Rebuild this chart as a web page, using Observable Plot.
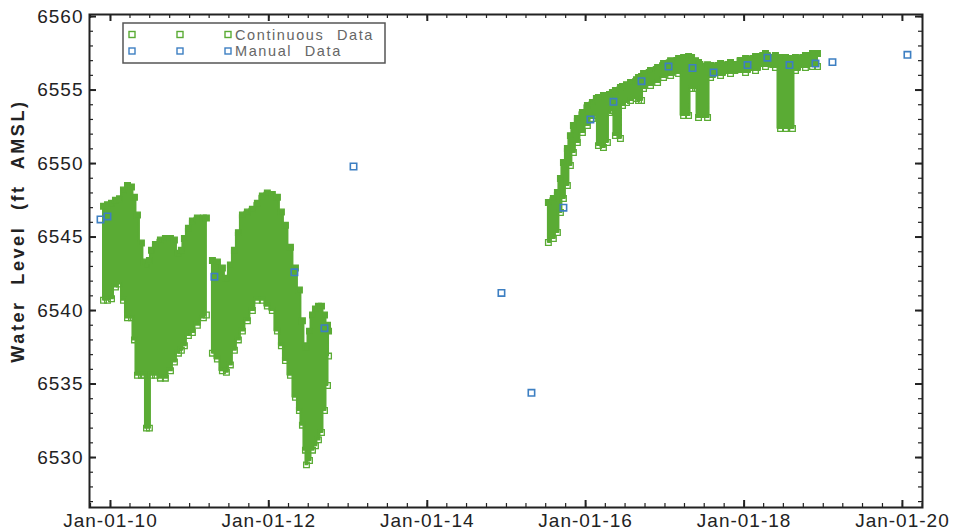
<!DOCTYPE html>
<html><head><meta charset="utf-8">
<script src="https://cdn.jsdelivr.net/npm/d3@7"></script>
<script src="https://cdn.jsdelivr.net/npm/@observablehq/plot@0.6"></script>
<style>body{margin:0;background:#fff;} #chart{width:956px;height:532px;}</style>
</head><body><div id="chart"></div>
<script>
// ---- Continuous data: envelope (high / low) of the dense logger record, decimal years ----
const segA_year = [2009.912,2009.962,2010.013,2010.063,2010.114,2010.164,2010.215,2010.265,2010.303,2010.341,2010.391,2010.429,2010.455,2010.492,2010.518,2010.568,2010.631,2010.694,2010.758,2010.808,2010.859,2010.896,2010.934,2010.985,2011.035,2011.098,2011.174,2011.212];
const segA_high = [6547.1,6547.2,6547.3,6547.5,6547.6,6548.2,6548.5,6548.4,6547.7,6546.5,6544.6,6543.3,6543.1,6543.4,6544.1,6544.5,6544.8,6544.9,6544.9,6544.8,6543.9,6544.1,6544.9,6545.6,6546.1,6546.3,6546.3,6546.3];
const segA_low  = [6540.7,6540.7,6540.8,6541.6,6541.8,6540.7,6539.5,6539.5,6538.0,6535.6,6535.6,6535.6,6532.0,6532.0,6535.6,6535.6,6535.4,6535.4,6535.9,6536.5,6537.1,6537.3,6537.6,6538.3,6538.5,6539.0,6539.5,6539.7];

const segB_year = [2011.288,2011.351,2011.414,2011.465,2011.515,2011.566,2011.616,2011.667,2011.730,2011.793,2011.856,2011.919,2011.982,2012.045,2012.109,2012.159,2012.210,2012.273,2012.336,2012.386,2012.424,2012.462,2012.475,2012.513,2012.551,2012.588,2012.626,2012.664,2012.702,2012.740,2012.753];
const segB_high = [6543.4,6543.3,6542.9,6542.2,6543.1,6544.1,6545.3,6546.5,6546.7,6546.9,6547.3,6547.8,6548.0,6547.9,6547.7,6546.7,6545.8,6544.3,6542.9,6541.4,6539.3,6537.6,6537.5,6538.6,6539.7,6540.1,6540.3,6540.3,6539.7,6539.0,6538.6];
const segB_low  = [6537.1,6536.7,6535.9,6535.8,6536.3,6537.3,6538.0,6538.6,6539.3,6540.0,6540.7,6540.7,6540.3,6540.0,6538.6,6537.6,6536.6,6535.6,6534.1,6533.2,6532.2,6530.5,6529.5,6529.8,6530.5,6530.8,6531.2,6531.7,6533.2,6534.9,6536.9];

const segC_year = [2015.530,2015.593,2015.644,2015.682,2015.720,2015.770,2015.808,2015.846,2015.896,2015.960,2016.023,2016.086,2016.136,2016.162,2016.225,2016.275,2016.301,2016.338,2016.376,2016.439,2016.465,2016.515,2016.566,2016.641,2016.667,2016.705,2016.730,2016.818,2016.907,2016.982,2017.071,2017.172,2017.235,2017.298,2017.336,2017.386,2017.424,2017.538,2017.576,2017.702,2017.828,2018.018,2018.144,2018.270,2018.396,2018.460,2018.523,2018.611,2018.649,2018.775,2018.864,2018.927];
const segC_high = [6547.35,6547.62,6548.03,6548.98,6550.07,6551.02,6551.90,6552.59,6553.06,6553.47,6553.95,6554.15,6554.42,6554.49,6554.63,6554.63,6554.69,6554.83,6554.97,6555.17,6555.24,6555.37,6555.51,6555.71,6555.85,6555.92,6556.12,6556.33,6556.53,6556.80,6557.00,6557.14,6557.21,6557.28,6557.21,6557.00,6556.87,6556.73,6556.67,6556.80,6556.87,6557.14,6557.28,6557.48,6557.35,6557.21,6557.21,6557.14,6557.21,6557.35,6557.48,6557.48];
const segC_low  = [6544.63,6544.90,6545.31,6546.67,6547.62,6548.50,6549.86,6550.75,6551.43,6552.11,6552.59,6553.06,6553.27,6551.22,6551.09,6551.43,6553.47,6553.61,6551.90,6551.70,6553.95,6554.15,6554.29,6554.42,6554.29,6554.29,6555.10,6555.31,6555.51,6555.85,6555.99,6556.12,6553.27,6553.27,6555.10,6555.10,6553.13,6553.13,6555.85,6555.99,6556.12,6556.19,6556.33,6556.60,6556.53,6552.38,6552.38,6552.38,6556.33,6556.53,6556.60,6556.60];

// ---- Manual data ----
const manualYear  = [2009.874,2009.962,2011.313,2012.323,2012.702,2013.068,2014.937,2015.316,2015.720,2016.061,2016.351,2016.705,2017.045,2017.348,2017.614,2018.043,2018.295,2018.573,2018.902,2019.116,2020.063];
const manualLevel = [6546.2,6546.4,6542.3,6542.6,6538.8,6549.8,6541.2,6534.4,6547.0,6553.0,6554.2,6555.6,6556.6,6556.5,6556.2,6556.7,6557.2,6556.7,6556.8,6556.9,6557.4];

// ---- Axis ticks and texts ----
const xTickYears = [2010,2012,2014,2016,2018,2020];
const yTicks = [6530,6535,6540,6545,6550,6555,6560];
const legendLabels = ["Continuous Data","Manual Data"];
const yTitle = "Water Level (ft AMSL)";

const green = "#5aab34", blue = "#3d7fc2";

const toDate = y => { const f = Math.floor(y); const a = Date.UTC(f,0,1), b = Date.UTC(f+1,0,1); return new Date(a + (y - f) * (b - a)); };

const cont = [];
[[segA_year,segA_high,segA_low,"A"],[segB_year,segB_high,segB_low,"B"],[segC_year,segC_high,segC_low,"C"]]
  .forEach(([ys,hs,ls,id]) => ys.forEach((y,i) => cont.push({date: toDate(y), high: hs[i], low: ls[i], seg: id})));
const manual = manualYear.map((y,i) => ({date: toDate(y), level: manualLevel[i]}));

const W = 956, H = 532, mL = 89, mR = 34, mT = 14, mB = 25;
const plotH = H - mT - mB, plotW = W - mL - mR;
const xDomain = [toDate(2009.735), toDate(2020.253)];
const yDomain = [6526.6, 6560.14];

const majorX = xTickYears.map(y => new Date(Date.UTC(y,0,1)));
const minorX = d3.utcMonth.every(3).range(xDomain[0], xDomain[1]);
const minorY = d3.range(Math.ceil(yDomain[0]), Math.floor(yDomain[1]) + 1);

const chart = Plot.plot({
  width: W, height: H,
  marginLeft: mL, marginRight: mR, marginTop: mT, marginBottom: mB,
  style: {fontFamily: "Liberation Sans, Arial, sans-serif", fontSize: "19px", color: "#222", background: "#fff"},
  x: {type: "utc", domain: xDomain, axis: null},
  y: {domain: yDomain, axis: null},
  marks: [
    Plot.areaY(cont, {x: "date", y1: "low", y2: "high", z: "seg", curve: "step", fill: green, stroke: green, strokeWidth: 2}),
    Plot.dot(cont, {x: "date", y: "high", symbol: "square", r: 3.2, stroke: green, strokeWidth: 1.3, fill: green}),
    Plot.dot(cont, {x: "date", y: "low", symbol: "square", r: 3.2, stroke: green, strokeWidth: 1.3, fill: "none"}),
    Plot.dot(manual, {x: "date", y: "level", symbol: "square", r: 3.6, stroke: blue, strokeWidth: 1.6, fill: "none"}),
    // ticks (inward, all four sides)
    Plot.ruleX(minorX, {x: d => d, insetTop: plotH - 4, stroke: "#222", strokeWidth: 1.2}),
    Plot.ruleX(minorX, {x: d => d, insetBottom: plotH - 4, stroke: "#222", strokeWidth: 1.2}),
    Plot.ruleX(majorX, {x: d => d, insetTop: plotH - 7, stroke: "#222", strokeWidth: 2}),
    Plot.ruleX(majorX, {x: d => d, insetBottom: plotH - 7, stroke: "#222", strokeWidth: 2}),
    Plot.ruleY(minorY, {y: d => d, insetRight: plotW - 4, stroke: "#222", strokeWidth: 1.2}),
    Plot.ruleY(minorY, {y: d => d, insetLeft: plotW - 4, stroke: "#222", strokeWidth: 1.2}),
    Plot.ruleY(yTicks, {y: d => d, insetRight: plotW - 7, stroke: "#222", strokeWidth: 2}),
    Plot.ruleY(yTicks, {y: d => d, insetLeft: plotW - 7, stroke: "#222", strokeWidth: 2}),
    Plot.frame({stroke: "#222", strokeWidth: 2}),
    Plot.axisX(majorX, {tickSize: 0, tickPadding: 6, tickFormat: d3.utcFormat("%b-%d-%y"), fontSize: 19}),
    Plot.axisY(yTicks, {tickSize: 0, tickPadding: 6, tickFormat: d => String(d), fontSize: 19})
  ]
});
document.getElementById("chart").appendChild(chart);

const svg = d3.select(chart);
svg.selectAll('g[aria-label="x-axis tick label"] text, g[aria-label="y-axis tick label"] text').style("letter-spacing", "1px");

// ---- Y title ----
svg.append("text").attr("transform", "translate(24,231) rotate(-90)")
  .attr("text-anchor", "middle").attr("font-family", "Liberation Sans, Arial, sans-serif")
  .attr("font-size", 18).attr("font-weight", "bold").attr("fill", "#222")
  .style("letter-spacing", "2.6px").style("word-spacing", "8px").text(yTitle);

// ---- Legend ----
const lg = svg.append("g").attr("aria-label", "legend");
lg.append("rect").attr("x", 123).attr("y", 23).attr("width", 262).attr("height", 40)
  .attr("fill", "#fff").attr("stroke", "#555").attr("stroke-width", 1.5);
const rowsY = [34.5, 51], cols = [132, 180, 228], cols2 = [green, blue];
legendLabels.forEach((lab, i) => {
  cols.forEach(cx => lg.append("rect").attr("x", cx - 3).attr("y", rowsY[i] - 3).attr("width", 6).attr("height", 6)
    .attr("fill", "none").attr("stroke", cols2[i]).attr("stroke-width", 1.4));
  lg.append("text").attr("x", 235).attr("y", rowsY[i]).attr("dy", "0.35em").attr("text-anchor", "start")
    .attr("font-family", "Liberation Sans, Arial, sans-serif").attr("font-size", 14.5)
    .attr("fill", "#666").style("letter-spacing", "1.6px").style("word-spacing", "7px").text(lab);
});
</script></body></html>
